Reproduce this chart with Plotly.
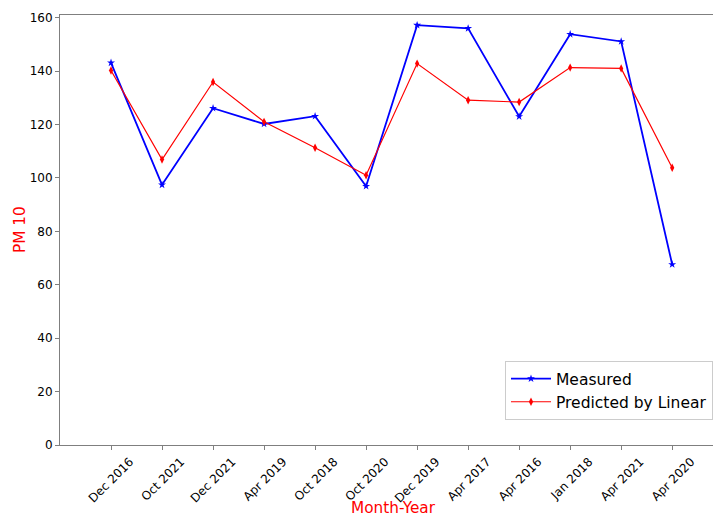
import plotly.graph_objects as go

months = ["Dec 2016", "Oct 2021", "Dec 2021", "Apr 2019", "Oct 2018", "Oct 2020",
          "Dec 2019", "Apr 2017", "Apr 2016", "Jan 2018", "Apr 2021", "Apr 2020"]
measured = [143.1, 97.4, 126.1, 120.2, 123.1, 96.9, 157.2, 156.0, 123.0, 153.8, 151.1, 67.6]
predicted = [140.2, 106.9, 135.9, 121.0, 111.3, 101.0, 142.8, 129.1, 128.4, 141.3, 141.0, 103.8]

fig = go.Figure()
fig.add_trace(go.Scatter(
    x=months, y=measured, name="Measured", mode="lines+markers",
    line=dict(color="#0000ff", width=1.8),
    marker=dict(symbol="star", size=6, color="#0000ff"),
))
fig.add_trace(go.Scatter(
    x=months, y=predicted, name="Predicted by Linear", mode="lines+markers",
    line=dict(color="#ff0000", width=1.2),
    marker=dict(symbol="diamond-tall", size=6, color="#ff0000"),
))

W, H, L, T, B = 713, 516, 60, 15, 71
pw, ph = W - L, H - T - B

fig.update_layout(
    width=W, height=H,
    margin=dict(l=L, r=0, t=T, b=B, autoexpand=False),
    paper_bgcolor="white", plot_bgcolor="white",
    font=dict(family="DejaVu Sans", color="black", size=12),
    showlegend=True,
    legend=dict(
        x=(505 - L) / pw, y=(H - B - 420) / ph, xanchor="left", yanchor="bottom",
        bgcolor="rgba(255,255,255,0.8)", bordercolor="#cccccc", borderwidth=1,
        font=dict(size=15.5, family="DejaVu Sans"),
        tracegroupgap=0, itemwidth=40,
    ),
    annotations=[
        dict(text="Month-Year", x=(393 - L) / pw, y=(H - B - 508) / ph,
             xref="paper", yref="paper", showarrow=False,
             xanchor="center", yanchor="middle",
             font=dict(color="#ff0000", size=15.3)),
        dict(text="PM 10", x=(20 - L) / pw, y=(H - B - 230) / ph,
             xref="paper", yref="paper", showarrow=False,
             xanchor="center", yanchor="middle",
             font=dict(color="#ff0000", size=15.3), textangle=-90),
    ],
)

fig.update_xaxes(
    type="category", range=[-1, 11.8], automargin=False,
    showline=True, linecolor="#7f7f7f", linewidth=1, mirror=True,
    ticks="outside", ticklen=4, tickcolor="#7f7f7f",
    tickangle=-45, tickfont=dict(size=12), ticklabelshift=19,
    showgrid=False, zeroline=False,
)
fig.update_yaxes(
    range=[0, 161], tickvals=[0, 20, 40, 60, 80, 100, 120, 140, 160], automargin=False,
    showline=True, linecolor="#7f7f7f", linewidth=1, mirror=False,
    ticks="outside", ticklen=4, tickcolor="#7f7f7f",
    tickfont=dict(size=12),
    showgrid=False, zeroline=False,
)

fig.write_html("out.html", config={"displayModeBar": False},
               post_script="document.body.style.margin='0px';document.body.style.overflow='hidden';")
